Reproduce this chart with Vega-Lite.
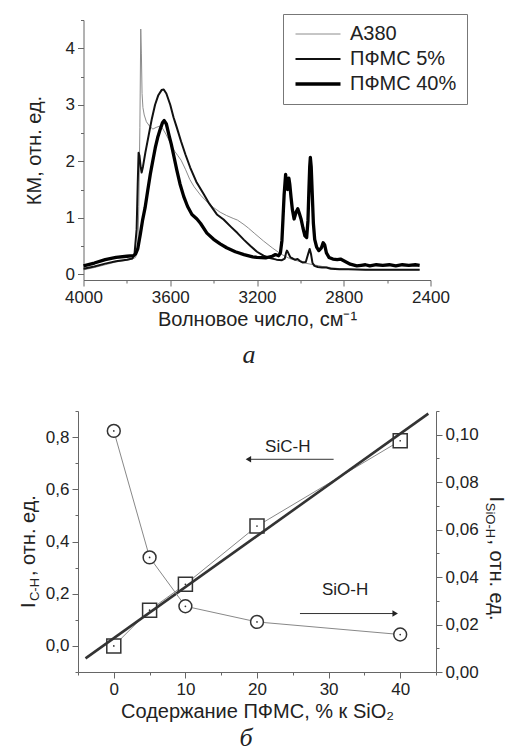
{
  "$schema": "https://vega.github.io/schema/vega-lite/v6.json",
  "background": "white",
  "padding": {"left": 18, "top": 11, "right": 0, "bottom": 0},
  "bounds": "flush",
  "center": true,
  "spacing": 131,
  "config": {
    "font": "Liberation Sans",
    "view": {"stroke": null},
    "axis": {"grid": false, "domainColor": "#666", "tickColor": "#666", "labelColor": "#222", "titleColor": "#222", "labelFontSize": 17, "titleFontSize": 20, "titleFontWeight": "normal", "labelFont": "Liberation Sans", "titleFont": "Liberation Sans", "tickSize": 6, "labelPadding": 3, "labelFlush": false, "labelOverlap": false},
    "title": {"font": "Liberation Serif", "fontStyle": "italic", "fontSize": 26, "fontWeight": "normal", "color": "#222"}
  },
  "datasets": {
    "spectra": [
      {"w":4000,"k":0.08,"s":"A380"},{"w":3950,"k":0.12,"s":"A380"},{"w":3900,"k":0.17,"s":"A380"},{"w":3850,"k":0.22,"s":"A380"},{"w":3800,"k":0.25,"s":"A380"},{"w":3775,"k":0.27,"s":"A380"},{"w":3760,"k":0.3,"s":"A380"},{"w":3750,"k":0.45,"s":"A380"},{"w":3745,"k":1.2,"s":"A380"},{"w":3740,"k":2.6,"s":"A380"},{"w":3736,"k":4.34,"s":"A380"},{"w":3733,"k":3.9,"s":"A380"},{"w":3730,"k":3.2,"s":"A380"},{"w":3726,"k":2.95,"s":"A380"},{"w":3720,"k":2.82,"s":"A380"},{"w":3710,"k":2.7,"s":"A380"},{"w":3695,"k":2.62,"s":"A380"},{"w":3680,"k":2.57,"s":"A380"},{"w":3665,"k":2.6,"s":"A380"},{"w":3650,"k":2.62,"s":"A380"},{"w":3635,"k":2.58,"s":"A380"},{"w":3620,"k":2.48,"s":"A380"},{"w":3600,"k":2.33,"s":"A380"},{"w":3580,"k":2.18,"s":"A380"},{"w":3565,"k":2.1,"s":"A380"},{"w":3550,"k":2.02,"s":"A380"},{"w":3530,"k":1.86,"s":"A380"},{"w":3510,"k":1.68,"s":"A380"},{"w":3490,"k":1.55,"s":"A380"},{"w":3460,"k":1.4,"s":"A380"},{"w":3430,"k":1.28,"s":"A380"},{"w":3400,"k":1.18,"s":"A380"},{"w":3370,"k":1.1,"s":"A380"},{"w":3340,"k":1.04,"s":"A380"},{"w":3310,"k":0.99,"s":"A380"},{"w":3290,"k":0.96,"s":"A380"},{"w":3260,"k":0.88,"s":"A380"},{"w":3240,"k":0.82,"s":"A380"},{"w":3210,"k":0.72,"s":"A380"},{"w":3170,"k":0.59,"s":"A380"},{"w":3130,"k":0.47,"s":"A380"},{"w":3090,"k":0.36,"s":"A380"},{"w":3050,"k":0.28,"s":"A380"},{"w":3015,"k":0.24,"s":"A380"},{"w":2980,"k":0.2,"s":"A380"},{"w":2940,"k":0.17,"s":"A380"},{"w":2900,"k":0.14,"s":"A380"},{"w":2860,"k":0.12,"s":"A380"},{"w":2820,"k":0.1,"s":"A380"},{"w":2780,"k":0.09,"s":"A380"},{"w":2700,"k":0.08,"s":"A380"},{"w":2600,"k":0.08,"s":"A380"},{"w":2500,"k":0.08,"s":"A380"},{"w":2450,"k":0.08,"s":"A380"},
      {"w":4000,"k":0.1,"s":"ПФМС 5%"},{"w":3950,"k":0.14,"s":"ПФМС 5%"},{"w":3900,"k":0.19,"s":"ПФМС 5%"},{"w":3850,"k":0.23,"s":"ПФМС 5%"},{"w":3800,"k":0.26,"s":"ПФМС 5%"},{"w":3775,"k":0.28,"s":"ПФМС 5%"},{"w":3765,"k":0.35,"s":"ПФМС 5%"},{"w":3755,"k":0.8,"s":"ПФМС 5%"},{"w":3750,"k":1.6,"s":"ПФМС 5%"},{"w":3746,"k":2.15,"s":"ПФМС 5%"},{"w":3742,"k":2.1,"s":"ПФМС 5%"},{"w":3737,"k":1.92,"s":"ПФМС 5%"},{"w":3732,"k":1.8,"s":"ПФМС 5%"},{"w":3726,"k":1.9,"s":"ПФМС 5%"},{"w":3715,"k":2.15,"s":"ПФМС 5%"},{"w":3700,"k":2.45,"s":"ПФМС 5%"},{"w":3685,"k":2.75,"s":"ПФМС 5%"},{"w":3670,"k":3.0,"s":"ПФМС 5%"},{"w":3655,"k":3.17,"s":"ПФМС 5%"},{"w":3640,"k":3.26,"s":"ПФМС 5%"},{"w":3630,"k":3.27,"s":"ПФМС 5%"},{"w":3618,"k":3.2,"s":"ПФМС 5%"},{"w":3600,"k":3.0,"s":"ПФМС 5%"},{"w":3585,"k":2.78,"s":"ПФМС 5%"},{"w":3570,"k":2.6,"s":"ПФМС 5%"},{"w":3550,"k":2.35,"s":"ПФМС 5%"},{"w":3530,"k":2.12,"s":"ПФМС 5%"},{"w":3508,"k":1.89,"s":"ПФМС 5%"},{"w":3480,"k":1.64,"s":"ПФМС 5%"},{"w":3446,"k":1.42,"s":"ПФМС 5%"},{"w":3420,"k":1.25,"s":"ПФМС 5%"},{"w":3385,"k":1.06,"s":"ПФМС 5%"},{"w":3354,"k":0.97,"s":"ПФМС 5%"},{"w":3320,"k":0.84,"s":"ПФМС 5%"},{"w":3290,"k":0.73,"s":"ПФМС 5%"},{"w":3260,"k":0.61,"s":"ПФМС 5%"},{"w":3230,"k":0.5,"s":"ПФМС 5%"},{"w":3200,"k":0.4,"s":"ПФМС 5%"},{"w":3170,"k":0.33,"s":"ПФМС 5%"},{"w":3140,"k":0.29,"s":"ПФМС 5%"},{"w":3110,"k":0.26,"s":"ПФМС 5%"},{"w":3085,"k":0.25,"s":"ПФМС 5%"},{"w":3072,"k":0.28,"s":"ПФМС 5%"},{"w":3066,"k":0.38,"s":"ПФМС 5%"},{"w":3062,"k":0.42,"s":"ПФМС 5%"},{"w":3056,"k":0.38,"s":"ПФМС 5%"},{"w":3046,"k":0.3,"s":"ПФМС 5%"},{"w":3035,"k":0.28,"s":"ПФМС 5%"},{"w":3025,"k":0.26,"s":"ПФМС 5%"},{"w":3013,"k":0.27,"s":"ПФМС 5%"},{"w":3003,"k":0.24,"s":"ПФМС 5%"},{"w":2990,"k":0.21,"s":"ПФМС 5%"},{"w":2975,"k":0.22,"s":"ПФМС 5%"},{"w":2965,"k":0.35,"s":"ПФМС 5%"},{"w":2957,"k":0.45,"s":"ПФМС 5%"},{"w":2951,"k":0.36,"s":"ПФМС 5%"},{"w":2944,"k":0.2,"s":"ПФМС 5%"},{"w":2935,"k":0.15,"s":"ПФМС 5%"},{"w":2920,"k":0.13,"s":"ПФМС 5%"},{"w":2900,"k":0.12,"s":"ПФМС 5%"},{"w":2880,"k":0.12,"s":"ПФМС 5%"},{"w":2860,"k":0.1,"s":"ПФМС 5%"},{"w":2820,"k":0.09,"s":"ПФМС 5%"},{"w":2780,"k":0.09,"s":"ПФМС 5%"},{"w":2700,"k":0.08,"s":"ПФМС 5%"},{"w":2600,"k":0.08,"s":"ПФМС 5%"},{"w":2500,"k":0.08,"s":"ПФМС 5%"},{"w":2450,"k":0.08,"s":"ПФМС 5%"},
      {"w":4000,"k":0.15,"s":"ПФМС 40%"},{"w":3950,"k":0.2,"s":"ПФМС 40%"},{"w":3900,"k":0.26,"s":"ПФМС 40%"},{"w":3850,"k":0.3,"s":"ПФМС 40%"},{"w":3800,"k":0.32,"s":"ПФМС 40%"},{"w":3770,"k":0.33,"s":"ПФМС 40%"},{"w":3760,"k":0.36,"s":"ПФМС 40%"},{"w":3750,"k":0.45,"s":"ПФМС 40%"},{"w":3738,"k":0.71,"s":"ПФМС 40%"},{"w":3728,"k":0.95,"s":"ПФМС 40%"},{"w":3716,"k":1.18,"s":"ПФМС 40%"},{"w":3704,"k":1.48,"s":"ПФМС 40%"},{"w":3692,"k":1.77,"s":"ПФМС 40%"},{"w":3680,"k":2.02,"s":"ПФМС 40%"},{"w":3669,"k":2.24,"s":"ПФМС 40%"},{"w":3658,"k":2.42,"s":"ПФМС 40%"},{"w":3646,"k":2.57,"s":"ПФМС 40%"},{"w":3636,"k":2.68,"s":"ПФМС 40%"},{"w":3628,"k":2.72,"s":"ПФМС 40%"},{"w":3618,"k":2.66,"s":"ПФМС 40%"},{"w":3605,"k":2.45,"s":"ПФМС 40%"},{"w":3595,"k":2.3,"s":"ПФМС 40%"},{"w":3585,"k":2.12,"s":"ПФМС 40%"},{"w":3570,"k":1.85,"s":"ПФМС 40%"},{"w":3555,"k":1.6,"s":"ПФМС 40%"},{"w":3538,"k":1.38,"s":"ПФМС 40%"},{"w":3520,"k":1.2,"s":"ПФМС 40%"},{"w":3500,"k":1.06,"s":"ПФМС 40%"},{"w":3477,"k":0.98,"s":"ПФМС 40%"},{"w":3460,"k":0.9,"s":"ПФМС 40%"},{"w":3431,"k":0.73,"s":"ПФМС 40%"},{"w":3400,"k":0.62,"s":"ПФМС 40%"},{"w":3370,"k":0.54,"s":"ПФМС 40%"},{"w":3340,"k":0.47,"s":"ПФМС 40%"},{"w":3300,"k":0.4,"s":"ПФМС 40%"},{"w":3260,"k":0.35,"s":"ПФМС 40%"},{"w":3220,"k":0.31,"s":"ПФМС 40%"},{"w":3200,"k":0.3,"s":"ПФМС 40%"},{"w":3160,"k":0.29,"s":"ПФМС 40%"},{"w":3130,"k":0.32,"s":"ПФМС 40%"},{"w":3115,"k":0.35,"s":"ПФМС 40%"},{"w":3100,"k":0.33,"s":"ПФМС 40%"},{"w":3092,"k":0.38,"s":"ПФМС 40%"},{"w":3085,"k":0.6,"s":"ПФМС 40%"},{"w":3080,"k":1.0,"s":"ПФМС 40%"},{"w":3075,"k":1.4,"s":"ПФМС 40%"},{"w":3068,"k":1.77,"s":"ПФМС 40%"},{"w":3063,"k":1.52,"s":"ПФМС 40%"},{"w":3059,"k":1.5,"s":"ПФМС 40%"},{"w":3053,"k":1.7,"s":"ПФМС 40%"},{"w":3049,"k":1.6,"s":"ПФМС 40%"},{"w":3043,"k":1.36,"s":"ПФМС 40%"},{"w":3037,"k":1.15,"s":"ПФМС 40%"},{"w":3029,"k":0.98,"s":"ПФМС 40%"},{"w":3020,"k":1.1,"s":"ПФМС 40%"},{"w":3012,"k":1.16,"s":"ПФМС 40%"},{"w":3005,"k":1.08,"s":"ПФМС 40%"},{"w":2997,"k":0.98,"s":"ПФМС 40%"},{"w":2988,"k":0.82,"s":"ПФМС 40%"},{"w":2979,"k":0.68,"s":"ПФМС 40%"},{"w":2971,"k":0.65,"s":"ПФМС 40%"},{"w":2965,"k":0.95,"s":"ПФМС 40%"},{"w":2961,"k":1.45,"s":"ПФМС 40%"},{"w":2957,"k":1.9,"s":"ПФМС 40%"},{"w":2954,"k":2.07,"s":"ПФМС 40%"},{"w":2950,"k":1.9,"s":"ПФМС 40%"},{"w":2945,"k":1.4,"s":"ПФМС 40%"},{"w":2940,"k":0.9,"s":"ПФМС 40%"},{"w":2934,"k":0.62,"s":"ПФМС 40%"},{"w":2925,"k":0.48,"s":"ПФМС 40%"},{"w":2915,"k":0.42,"s":"ПФМС 40%"},{"w":2903,"k":0.47,"s":"ПФМС 40%"},{"w":2895,"k":0.56,"s":"ПФМС 40%"},{"w":2888,"k":0.52,"s":"ПФМС 40%"},{"w":2880,"k":0.38,"s":"ПФМС 40%"},{"w":2868,"k":0.3,"s":"ПФМС 40%"},{"w":2850,"k":0.27,"s":"ПФМС 40%"},{"w":2830,"k":0.26,"s":"ПФМС 40%"},{"w":2815,"k":0.27,"s":"ПФМС 40%"},{"w":2800,"k":0.24,"s":"ПФМС 40%"},{"w":2785,"k":0.21,"s":"ПФМС 40%"},{"w":2770,"k":0.18,"s":"ПФМС 40%"},{"w":2740,"k":0.15,"s":"ПФМС 40%"},{"w":2720,"k":0.16,"s":"ПФМС 40%"},{"w":2700,"k":0.17,"s":"ПФМС 40%"},{"w":2680,"k":0.15,"s":"ПФМС 40%"},{"w":2650,"k":0.17,"s":"ПФМС 40%"},{"w":2620,"k":0.16,"s":"ПФМС 40%"},{"w":2590,"k":0.17,"s":"ПФМС 40%"},{"w":2560,"k":0.15,"s":"ПФМС 40%"},{"w":2530,"k":0.17,"s":"ПФМС 40%"},{"w":2500,"k":0.16,"s":"ПФМС 40%"},{"w":2470,"k":0.17,"s":"ПФМС 40%"},{"w":2450,"k":0.16,"s":"ПФМС 40%"}
    ],
    "sich": [{"x":0,"y":0.0},{"x":5,"y":0.137},{"x":10,"y":0.236},{"x":20,"y":0.459},{"x":40,"y":0.786}],
    "sioh": [{"x":0,"y":0.1016},{"x":5,"y":0.0483},{"x":10,"y":0.0277},{"x":20,"y":0.0211},{"x":40,"y":0.0158}],
    "fit": [{"x":-3.95,"y":-0.048},{"x":43.93,"y":0.89}],
    "arrows": [{"x":30.7,"x2":18.8,"y":0.715},{"x":26.0,"x2":39.3,"y":0.124}],
    "heads": [{"x":18.8,"y":0.715,"dir":"left"},{"x":39.3,"y":0.124,"dir":"right"}],
    "notes": [{"x":24.3,"y":0.762,"t":"SiC-H"},{"x":32.3,"y":0.213,"t":"SiO-H"}]
  },
  "vconcat": [
    {
      "width": 347,
      "height": 260,
      "title": {"text": "а", "orient": "bottom", "offset": 13, "dx": -8},
      "data": {"name": "spectra"},
      "mark": {"type": "line", "strokeJoin": "round"},
      "encoding": {
        "x": {"field": "w", "type": "quantitative",
          "scale": {"domain": [2400, 4000], "reverse": true, "nice": false, "zero": false},
          "axis": {"title": "Волновое число, см⁻¹", "format": "d",
            "values": [2400, 2600, 2800, 3000, 3200, 3400, 3600, 3800, 4000],
            "labelExpr": "datum.value % 400 === 0 ? datum.label : ''",
            "tickSize": {"condition": {"test": "datum.value % 400 !== 0", "value": 3}, "value": 6}}},
        "y": {"field": "k", "type": "quantitative",
          "scale": {"domain": [-0.1, 4.5], "nice": false, "zero": false},
          "axis": {"title": "КМ, отн. ед.", "titlePadding": 21,
            "values": [0, 0.5, 1, 1.5, 2, 2.5, 3, 3.5, 4, 4.5],
            "labelExpr": "datum.value % 1 === 0 ? format(datum.value, 'd') : ''",
            "tickSize": {"condition": {"test": "datum.value % 1 !== 0", "value": 3}, "value": 6}}},
        "color": {"field": "s", "type": "nominal",
          "scale": {"domain": ["A380", "ПФМС 5%", "ПФМС 40%"], "range": ["#8c8c8c", "#111111", "#000000"]},
          "legend": {"orient": "none", "legendX": 205, "legendY": -6, "title": null, "strokeColor": "#777", "fillColor": "white", "padding": 10, "rowPadding": 5, "labelFontSize": 20, "labelColor": "#222", "labelOffset": 37, "symbolType": "M-1,0H5", "symbolSize": 225}},
        "strokeWidth": {"field": "s", "type": "nominal",
          "scale": {"type": "ordinal", "domain": ["A380", "ПФМС 5%", "ПФМС 40%"], "range": [1, 2, 3.3]},
          "legend": {"orient": "none", "legendX": 205, "legendY": -6, "title": null, "strokeColor": "#777", "fillColor": "white", "padding": 10, "rowPadding": 5, "labelFontSize": 20, "labelColor": "#222", "labelOffset": 37, "symbolType": "M-1,0H5", "symbolSize": 225}}
      }
    },
    {
      "width": 358,
      "height": 261,
      "title": {"text": "б", "orient": "bottom", "offset": 4, "dx": -11},
      "encoding": {
        "x": {"field": "x", "type": "quantitative",
          "scale": {"domain": [-5, 45], "nice": false, "zero": false},
          "axis": {"title": "Содержание ПФМС, % к SiO₂",
            "values": [-5, 0, 5, 10, 15, 20, 25, 30, 35, 40, 45],
            "labelExpr": "datum.value % 10 === 0 && datum.value >= 0 && datum.value <= 40 ? datum.label : ''",
            "tickSize": {"condition": {"test": "datum.value % 10 !== 0", "value": 3}, "value": 6}}}
      },
      "layer": [
        {
          "encoding": {
            "y": {"field": "y", "type": "quantitative",
              "scale": {"domain": [-0.1, 0.9], "nice": false, "zero": false},
              "axis": {"orient": "left", "title": "I\u2007\u2007\u2009, отн. ед.", "titleBaseline": "alphabetic", "titleX": -44, "titleY": 140, "titleAngle": 270,
                "values": [-0.1, 0, 0.1, 0.2, 0.3, 0.4, 0.5, 0.6, 0.7, 0.8, 0.9],
                "labelExpr": "abs(round(datum.value*10)) % 2 === 0 ? replace(format(datum.value, '.1f'), '.', ',') : ''",
                "tickSize": {"condition": {"test": "abs(round(datum.value*10)) % 2 === 1", "value": 3}, "value": 6}}}
          },
          "layer": [
            {"data": {"name": "sich"}, "mark": {"type": "line", "color": "#888", "strokeWidth": 1}, "encoding": {}},
            {"data": {"name": "sich"}, "mark": {"type": "point", "shape": "square", "size": 196, "fill": "white", "stroke": "#333", "strokeWidth": 1.5, "opacity": 1}, "encoding": {}},
            {"data": {"name": "arrows"}, "mark": {"type": "rule", "color": "#333", "strokeWidth": 1}, "encoding": {"x2": {"field": "x2"}}},
            {"data": {"name": "heads"}, "mark": {"type": "point", "filled": true, "color": "#222", "size": 40, "opacity": 1},
              "encoding": {"shape": {"field": "dir", "type": "nominal", "scale": {"domain": ["left", "right"], "range": ["triangle-left", "triangle-right"]}, "legend": null}}},
            {"data": {"name": "notes"}, "mark": {"type": "text", "fontSize": 17, "color": "#222", "font": "Liberation Sans"}, "encoding": {"text": {"field": "t"}}}
          ]
        },
        {
          "encoding": {
            "y": {"field": "y", "type": "quantitative",
              "scale": {"domain": [-0.1, 0.9], "nice": false, "zero": false},
              "axis": {"orient": "left", "title": "C-H", "titleFontSize": 13, "titleBaseline": "alphabetic", "titleX": -40, "titleY": 178, "titleAngle": 270,
                "domain": false, "ticks": false, "labels": false}}
          },
          "layer": [
            {"data": {"name": "fit"}, "mark": {"type": "line", "color": "#333", "strokeWidth": 2.6}, "encoding": {}},
            {"data": {"name": "sich"}, "mark": {"type": "circle", "size": 3, "color": "#333", "opacity": 1}, "encoding": {}}
          ]
        },
        {
          "encoding": {
            "y": {"field": "y", "type": "quantitative",
              "scale": {"domain": [0, 0.11], "nice": false, "zero": false},
              "axis": {"orient": "right", "title": "I\u2007\u2007\u2007\u2009, отн. ед.", "titleBaseline": "alphabetic", "titleX": 53, "titleY": 147, "titleAngle": 90,
                "values": [0, 0.01, 0.02, 0.03, 0.04, 0.05, 0.06, 0.07, 0.08, 0.09, 0.1, 0.11],
                "labelExpr": "round(datum.value*100) % 2 === 0 ? replace(format(datum.value, '.2f'), '.', ',') : ''",
                "tickSize": {"condition": {"test": "round(datum.value*100) % 2 === 1", "value": 3}, "value": 6}}}
          },
          "layer": [
            {"data": {"name": "sioh"}, "mark": {"type": "line", "color": "#888", "strokeWidth": 1}, "encoding": {}},
            {"data": {"name": "sioh"}, "mark": {"type": "point", "shape": "circle", "size": 165, "fill": "white", "stroke": "#333", "strokeWidth": 1.5, "opacity": 1}, "encoding": {}}
          ]
        },
        {
          "encoding": {
            "y": {"field": "y", "type": "quantitative",
              "scale": {"domain": [0, 0.11], "nice": false, "zero": false},
              "axis": {"orient": "right", "title": "SiO-H", "titleFontSize": 13, "titleBaseline": "alphabetic", "titleX": 49, "titleY": 109, "titleAngle": 90,
                "domain": false, "ticks": false, "labels": false}}
          },
          "layer": [
            {"data": {"name": "sioh"}, "mark": {"type": "circle", "size": 3, "color": "#333", "opacity": 1}, "encoding": {}}
          ]
        }
      ],
      "resolve": {"scale": {"y": "independent"}}
    }
  ]
}
